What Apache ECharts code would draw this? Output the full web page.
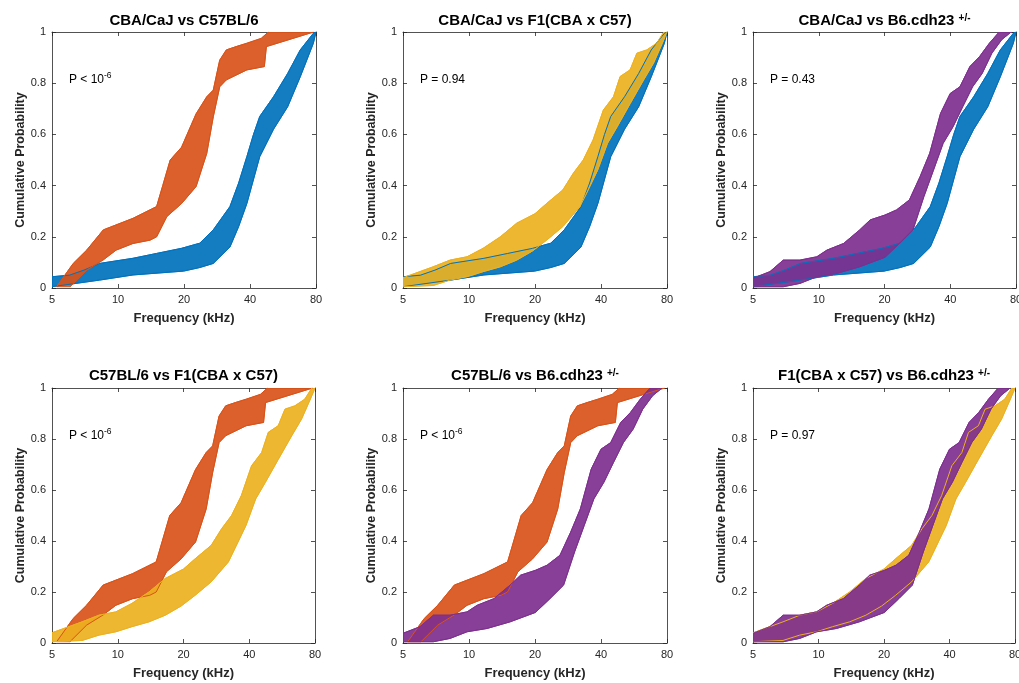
<!DOCTYPE html>
<html><head><meta charset="utf-8">
<script src="https://cdn.jsdelivr.net/npm/echarts@6/dist/echarts.min.js"></script>
<style>html,body{margin:0;padding:0;background:#fff}#c{width:1019px;height:683px}</style>
</head><body><div id="c"></div>
<script>
// Frequency ticks (kHz), log axis
const freqTicks = [5, 10, 20, 40, 80];

// Group colours
const colCBA = '#0072BD', colC57 = '#D95319', colF1 = '#EDB120', colB6 = '#7E2F8E';

// CBA/CaJ bootstrap band (upper / lower envelopes), [kHz, probability]
const cbaUpper = [[5,0.044],[6.0,0.05],[7.0,0.07],[8.25,0.096],[11.7,0.116],[15,0.135],[19.5,0.155],[23.6,0.175],[27.2,0.227],[32.4,0.318],[35.5,0.41],[38.7,0.513],[41.5,0.6],[44.3,0.67],[51.2,0.747],[59.4,0.838],[67.8,0.93],[77.8,0.995],[80,1]];
const cbaLower = [[5,0.005],[8.25,0.031],[11.7,0.051],[19.9,0.066],[23.6,0.08],[27.2,0.096],[32.4,0.16],[35.5,0.24],[38.7,0.33],[44.3,0.513],[51.2,0.62],[59.4,0.708],[67.8,0.825],[77.8,0.956],[80,1]];

// C57BL/6 band
const c57Upper = [[5.25,0.005],[6.25,0.096],[7.2,0.148],[8.57,0.227],[11.7,0.272],[15,0.318],[16,0.4],[17.3,0.5],[19.5,0.55],[22.7,0.68],[25.4,0.747],[27.2,0.773],[29.1,0.89],[31.2,0.93],[34.6,0.943],[38.7,0.956],[45,0.975],[48.5,1]];
const c57Lower = [[6.04,0.005],[7.2,0.07],[8.57,0.11],[9.8,0.148],[11.7,0.174],[14,0.187],[15,0.2],[16.7,0.279],[19.5,0.33],[22.7,0.396],[25.4,0.526],[27.2,0.669],[29.1,0.786],[31.2,0.813],[38.7,0.852],[46.5,0.865],[47.5,0.943],[78,1]];

// F1(CBA x C57) band
const f1Upper = [[5,0.04],[6.87,0.083],[8.2,0.109],[9.8,0.122],[11.6,0.155],[13.9,0.2],[16.5,0.253],[20,0.29],[22.6,0.33],[26.8,0.383],[29.9,0.448],[33.2,0.5],[36.8,0.578],[41,0.695],[45.6,0.747],[48.9,0.826],[54.3,0.852],[58.3,0.917],[64.7,0.93],[71.8,0.956],[77.4,1]];
const f1Lower = [[5,0.005],[6.87,0.01],[8.2,0.031],[9.8,0.044],[11.6,0.064],[13.9,0.083],[16.5,0.109],[19.5,0.145],[22.6,0.187],[26.8,0.24],[32.1,0.318],[38.6,0.46],[42.8,0.565],[47.4,0.63],[54.3,0.72],[62.6,0.813],[69.4,0.878],[77.4,0.97],[80,1]];

// B6.cdh23 +/- band
const b6Upper = [[5,0.038],[5.98,0.064],[6.88,0.109],[8.2,0.109],[9.8,0.122],[10.9,0.148],[13,0.174],[15.4,0.227],[17.2,0.266],[20.1,0.285],[22.7,0.305],[26,0.344],[29.1,0.435],[32.2,0.526],[36.1,0.682],[40,0.76],[44.3,0.786],[49.2,0.865],[54.5,0.904],[60.4,0.956],[67,1]];
const b6Lower = [[5,0.005],[6.88,0.005],[8.2,0.018],[9.8,0.044],[12.1,0.057],[15.4,0.083],[20.1,0.12],[23.4,0.174],[27,0.227],[30.3,0.357],[33.5,0.46],[37.1,0.565],[41.2,0.63],[45.6,0.708],[50.6,0.786],[56,0.838],[62,0.917],[68.8,0.97],[76,1]];

const groups = {
  cba: {upper: cbaUpper, lower: cbaLower, color: colCBA},
  c57: {upper: c57Upper, lower: c57Lower, color: colC57},
  f1:  {upper: f1Upper,  lower: f1Lower,  color: colF1},
  b6:  {upper: b6Upper,  lower: b6Lower,  color: colB6}
};

// Panels: title parts, p-value text, groups drawn (first underneath)
const panelTitles = ['CBA/CaJ vs C57BL/6', 'CBA/CaJ vs F1(CBA x C57)', 'CBA/CaJ vs B6.cdh23 ', 'C57BL/6 vs F1(CBA x C57)', 'C57BL/6 vs B6.cdh23 ', 'F1(CBA x C57) vs B6.cdh23 '];
const panelSup = ['', '', '+/-', '', '+/-', '+/-'];
const panelP = [['P < 10', '-6'], ['P = 0.94', ''], ['P = 0.43', ''], ['P < 10', '-6'], ['P < 10', '-6'], ['P = 0.97', '']];
const panelGroups = [['cba','c57'], ['cba','f1'], ['cba','b6'], ['c57','f1'], ['c57','b6'], ['f1','b6']];

const gridBoxes = [
  {left: 52, top: 32, width: 264, height: 256},
  {left: 403, top: 32, width: 264, height: 256},
  {left: 753, top: 32, width: 263, height: 256},
  {left: 52, top: 388, width: 263, height: 255},
  {left: 403, top: 388, width: 264, height: 255},
  {left: 753, top: 388, width: 262, height: 255}
];

const FONT = '"Liberation Sans", Arial, Helvetica, sans-serif';
const AX = '#262626';

const grid = [], xAxis = [], yAxis = [], series = [], graphic = [];
gridBoxes.forEach((g, i) => {
  grid.push(Object.assign({containLabel: false, outerBoundsMode: 'none'}, g));
  const common = {
    axisLine: {show: true, onZero: false, lineStyle: {color: AX, width: 0.8}},
    axisTick: {show: true, inside: true, length: 4, lineStyle: {color: AX, width: 0.8}},
    splitLine: {show: false}
  };
  xAxis.push(Object.assign({}, common, {
    gridIndex: i, type: 'log', logBase: 2, min: 5, max: 80, position: 'bottom',
    axisTick: Object.assign({}, common.axisTick, {customValues: freqTicks}),
    axisLabel: {customValues: freqTicks, color: AX, fontSize: 11, fontFamily: FONT, margin: 6, formatter: v => String(Math.round(v))},
    name: 'Frequency (kHz)', nameLocation: 'middle', nameGap: 24,
    nameTextStyle: {color: AX, fontSize: 13, fontWeight: 'bold', fontFamily: FONT}
  }));
  xAxis.push(Object.assign({}, common, {
    gridIndex: i, type: 'log', logBase: 2, min: 5, max: 80, position: 'top',
    axisTick: Object.assign({}, common.axisTick, {customValues: freqTicks}),
    axisLabel: {show: false, customValues: freqTicks}
  }));
  yAxis.push(Object.assign({}, common, {
    gridIndex: i, type: 'value', min: 0, max: 1, interval: 0.2, position: 'left',
    axisLabel: {color: AX, fontSize: 11, fontFamily: FONT, margin: 6},
    name: 'Cumulative Probability', nameLocation: 'middle', nameGap: 25,
    nameTextStyle: {color: AX, fontSize: 12.5, fontWeight: 'bold', fontFamily: FONT}
  }));
  yAxis.push(Object.assign({}, common, {
    gridIndex: i, type: 'value', min: 0, max: 1, interval: 0.2, position: 'right',
    axisLabel: {show: false}
  }));

  panelGroups[i].forEach(key => {
    const grp = groups[key];
    series.push({
      type: 'custom', coordinateSystem: 'cartesian2d',
      xAxisIndex: 2 * i, yAxisIndex: 2 * i, silent: true, clip: true,
      data: grp.upper.concat(grp.lower.slice().reverse()),
      renderItem: function (params, api) {
        if (params.dataIndex !== 0) return null;
        const pts = grp.upper.concat(grp.lower.slice().reverse()).map(p => api.coord(p));
        return {type: 'polygon', shape: {points: pts}, style: {fill: grp.color, opacity: 0.92, stroke: grp.color, lineWidth: 1}};
      }
    });
    [grp.upper, grp.lower].forEach(curve => {
      series.push({
        type: 'line', xAxisIndex: 2 * i, yAxisIndex: 2 * i, data: curve,
        showSymbol: false, silent: true, lineStyle: {color: grp.color, width: 1}
      });
    });
  });

  const cx = g.left + g.width / 2;
  const hasSup = !!panelSup[i];
  const ty = i < 3 ? 18 : 373;
  graphic.push({
    type: 'text', x: cx, y: ty,
    style: {
      text: '{t|' + panelTitles[i] + '}' + (hasSup ? '{s|' + panelSup[i] + '}' : ''),
      align: 'center', verticalAlign: 'middle',
      rich: {
        t: {fontSize: 15, fontWeight: 'bold', fontFamily: FONT, fill: '#000', lineHeight: 20, verticalAlign: 'bottom'},
        s: {fontSize: 10, fontWeight: 'bold', fontFamily: FONT, fill: '#000', lineHeight: 20, verticalAlign: 'bottom', padding: [0, 0, 5, 0]}
      }
    }
  });
  const pp = panelP[i];
  graphic.push({
    type: 'text', x: g.left + 17, y: g.top + 48,
    style: {
      text: '{p|' + pp[0] + '}' + (pp[1] ? '{e|' + pp[1] + '}' : ''),
      align: 'left', verticalAlign: 'middle',
      rich: {
        p: {fontSize: 12, fontFamily: FONT, fill: '#000', lineHeight: 16},
        e: {fontSize: 8.5, fontFamily: FONT, fill: '#000', lineHeight: 16, padding: [0, 0, 9, 0]}
      }
    }
  });
});

const chart = echarts.init(document.getElementById('c'), null, {renderer: 'canvas'});
chart.setOption({animation: false, backgroundColor: '#fff', grid, xAxis, yAxis, series, graphic});
</script></body></html>
